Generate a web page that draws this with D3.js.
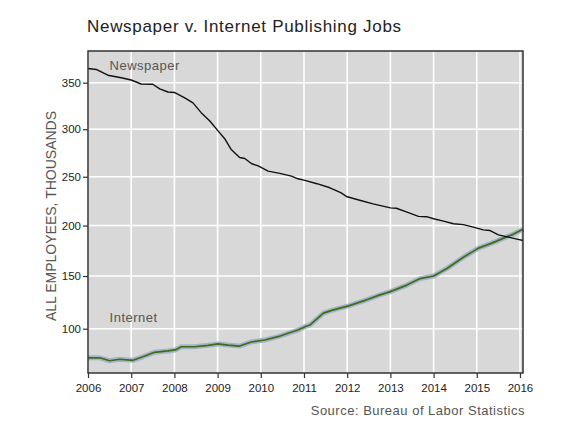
<!DOCTYPE html>
<html>
<head>
<meta charset="utf-8">
<script src="https://cdn.jsdelivr.net/npm/d3@7"></script>
<style>
  body { margin: 0; background: #fff; }
  svg { font-family: "Liberation Sans", Arial, sans-serif; }
</style>
</head>
<body>
<svg width="580" height="423"></svg>
<script>
// Data (thousands of employees), dates as decimal years
const newsDates = [2006.0, 2006.19, 2006.46, 2006.77, 2007.0, 2007.23, 2007.5, 2007.66, 2007.85, 2008.0,
  2008.24, 2008.43, 2008.62, 2008.82, 2009.01, 2009.16, 2009.31, 2009.51, 2009.63, 2009.78,
  2009.94, 2010.17, 2010.44, 2010.71, 2010.86, 2011.0, 2011.3, 2011.6, 2011.85, 2012.0,
  2012.29, 2012.6, 2013.0, 2013.14, 2013.37, 2013.65, 2013.84, 2014.0, 2014.23, 2014.46,
  2014.69, 2014.92, 2015.15, 2015.31, 2015.5, 2015.73, 2015.93, 2016.07];
const newsJobs = [365.5, 364.4, 358.1, 355.3, 352.9, 348.6, 348.3, 343.3, 339.9, 339.4,
  333.5, 328.2, 317.7, 308.8, 298.2, 290.2, 278.9, 270.1, 269.1, 263.8,
  261.3, 255.9, 253.5, 250.6, 247.9, 246.5, 242.8, 238.6, 233.5, 229.3,
  225.8, 222.1, 218.0, 217.6, 213.8, 209.3, 209.0, 206.9, 204.5, 201.8,
  201.0, 198.4, 195.7, 195.0, 190.7, 188.4, 186.4, 185.0];

const netDates = [2006.0, 2006.27, 2006.5, 2006.73, 2007.04, 2007.27, 2007.54, 2007.85, 2008.02, 2008.16,
  2008.47, 2008.78, 2009.01, 2009.24, 2009.51, 2009.78, 2010.09, 2010.4, 2010.63, 2010.86,
  2011.06, 2011.14, 2011.45, 2011.68, 2012.03, 2012.45, 2012.76, 2013.0, 2013.38, 2013.69,
  2014.0, 2014.31, 2014.69, 2015.04, 2015.35, 2015.62, 2015.85, 2016.07];
const netJobs = [73.7, 73.7, 71.1, 72.4, 71.5, 74.6, 78.6, 79.8, 80.7, 83.6,
  83.6, 84.9, 86.1, 85.1, 84.2, 87.9, 89.7, 92.7, 95.8, 98.8,
  102.5, 103.5, 114.5, 117.6, 121.4, 127.1, 131.8, 134.9, 141.2, 147.5,
  150.0, 157.4, 168.4, 177.4, 182.4, 187.4, 191.4, 196.4];

const yearTicks = d3.range(2006, 2017);
const jobTicks = [100, 150, 200, 250, 300, 350];

const svg = d3.select("svg");
const pLeft = 88, pRight = 523, pTop = 51, pBottom = 373;

const x = d3.scaleLinear().domain([2006, 2016.07]).range([pLeft, pRight]);
// the source axis is slightly compressed toward the top
const y = d3.scalePow().exponent(0.87).domain([60.4, 384.6]).range([pBottom, pTop]);

// panel
svg.append("rect")
    .attr("x", pLeft).attr("y", pTop)
    .attr("width", pRight - pLeft).attr("height", pBottom - pTop)
    .attr("fill", "#d8d8d8");

// grid
svg.append("g").selectAll("line").data(yearTicks).join("line")
    .attr("x1", d => x(d)).attr("x2", d => x(d))
    .attr("y1", pTop).attr("y2", pBottom)
    .attr("stroke", "#fff").attr("stroke-width", 1.6);
svg.append("g").selectAll("line").data(jobTicks).join("line")
    .attr("x1", pLeft).attr("x2", pRight)
    .attr("y1", d => y(d)).attr("y2", d => y(d))
    .attr("stroke", "#fff").attr("stroke-width", 1.6);

const newsLine = d3.line().x((d, i) => x(newsDates[i])).y(d => y(d));
const netLine = d3.line().x((d, i) => x(netDates[i])).y(d => y(d));

// internet: light halo under a dark green line
svg.append("path").datum(netJobs)
    .attr("d", netLine)
    .attr("fill", "none")
    .attr("stroke", "#9fb0c3")
    .attr("stroke-opacity", 0.9)
    .attr("stroke-width", 5)
    .attr("stroke-linejoin", "round");
svg.append("path").datum(netJobs)
    .attr("d", netLine)
    .attr("fill", "none")
    .attr("stroke", "#3f6b1d")
    .attr("stroke-width", 1.7)
    .attr("stroke-linejoin", "round");

svg.append("path").datum(newsJobs)
    .attr("d", newsLine)
    .attr("fill", "none")
    .attr("stroke", "#111")
    .attr("stroke-width", 1.4)
    .attr("stroke-linejoin", "round");

// panel border
svg.append("rect")
    .attr("x", pLeft).attr("y", pTop)
    .attr("width", pRight - pLeft).attr("height", pBottom - pTop)
    .attr("fill", "none").attr("stroke", "#333").attr("stroke-width", 1.5);

// axes
const xAxis = svg.append("g")
    .attr("transform", `translate(0,${pBottom})`)
    .call(d3.axisBottom(x).tickValues(yearTicks).tickFormat(d3.format("d")).tickSize(5).tickPadding(6));
const yAxis = svg.append("g")
    .attr("transform", `translate(${pLeft},0)`)
    .call(d3.axisLeft(y).tickValues(jobTicks).tickSize(5).tickPadding(2));

[xAxis, yAxis].forEach(g => {
  g.select(".domain").remove();
  g.selectAll(".tick line").attr("stroke", "#333").attr("stroke-width", 1.2);
  g.selectAll(".tick text")
      .attr("fill", "#222")
      .style("font-size", "11.5px")
      .style("font-family", "Liberation Sans, Arial, sans-serif");
});

// texts
svg.append("text")
    .attr("x", 87).attr("y", 32)
    .attr("fill", "#222")
    .style("font-size", "17px")
    .style("letter-spacing", "0.7px")
    .text("Newspaper v. Internet Publishing Jobs");

svg.append("text")
    .attr("transform", "translate(56,216) rotate(-90)")
    .attr("text-anchor", "middle")
    .attr("fill", "#555")
    .style("font-size", "14px")
    .text("ALL EMPLOYEES, THOUSANDS");

svg.append("text")
    .attr("x", x(2006.5)).attr("y", 70)
    .attr("fill", "#555")
    .style("font-size", "13px")
    .style("letter-spacing", "0.5px")
    .text("Newspaper");

svg.append("text")
    .attr("x", x(2006.5)).attr("y", 322)
    .attr("fill", "#555")
    .style("font-size", "13px")
    .style("letter-spacing", "0.5px")
    .text("Internet");

svg.append("text")
    .attr("x", 525).attr("y", 415)
    .attr("text-anchor", "end")
    .attr("fill", "#555")
    .style("font-size", "13px")
    .style("letter-spacing", "0.5px")
    .text("Source: Bureau of Labor Statistics");
</script>
</body>
</html>
